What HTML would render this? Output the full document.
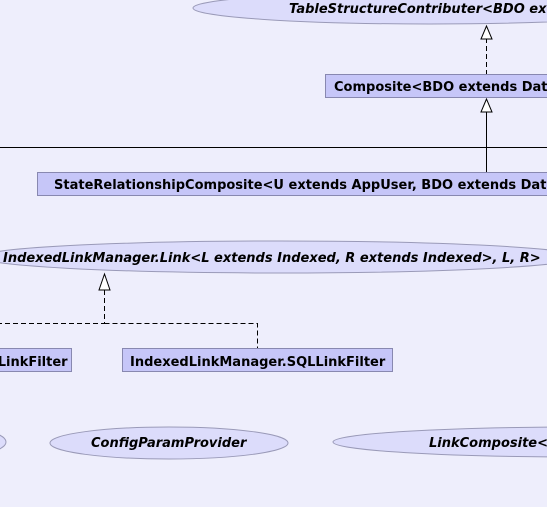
<!DOCTYPE html>
<html><head><style>
html,body{margin:0;padding:0;background:#eeeefc;}
svg{display:block;}
text{font-family:"DejaVu Sans",sans-serif;font-size:13px;font-weight:bold;fill:#000;}
.i{font-style:italic;}
</style></head><body>
<svg width="547" height="507" viewBox="0 0 547 507" xmlns="http://www.w3.org/2000/svg">
<rect width="547" height="507" fill="#eeeefc"/>
<g fill="#dcdcfb" stroke="#9a9ab8" stroke-width="1">
<ellipse cx="430" cy="8" rx="237" ry="16"/>
<ellipse cx="280" cy="257" rx="300" ry="16"/>
<ellipse cx="-60" cy="442" rx="66" ry="16"/>
<ellipse cx="169" cy="443" rx="119" ry="16"/>
<ellipse cx="580" cy="442" rx="247" ry="15"/>
</g>
<g fill="#c6c6f8" stroke="#8888b0" stroke-width="1">
<rect x="325.5" y="74.5" width="240" height="23"/>
<rect x="37.5" y="172.5" width="540" height="23"/>
<rect x="-10.5" y="348.5" width="82" height="23"/>
<rect x="122.5" y="348.5" width="270" height="23"/>
</g>
<g stroke="#000" stroke-width="1" fill="none">
<line x1="486.5" y1="38" x2="486.5" y2="74" stroke-dasharray="5,3"/>
<line x1="486.5" y1="112" x2="486.5" y2="172"/>
<line x1="0" y1="147.5" x2="547" y2="147.5"/>
<path d="M104.5 290 V323.5 H0 M104.5 323.5 H257.5 V348" stroke-dasharray="5,3"/>
</g>
<g fill="#fff" stroke="#000" stroke-width="1">
<path d="M486.5 26 L481 39 L492 39 Z"/>
<path d="M486.5 99 L481 112 L492 112 Z"/>
<path d="M104.5 274 L99 290 L110 290 Z"/>
</g>
<text class="i" x="289" y="13">TableStructureContributer&lt;BDO extends</text>
<text x="334" y="91">Composite&lt;BDO extends DataObject&gt;</text>
<text x="54" y="189">StateRelationshipComposite&lt;U extends AppUser, BDO extends DataObject&gt;</text>
<text class="i" x="3" y="262">IndexedLinkManager.Link&lt;L extends Indexed, R extends Indexed&gt;, L, R&gt;</text>
<text x="-31" y="366">SQLLinkFilter</text>
<text x="130" y="366">IndexedLinkManager.SQLLinkFilter</text>
<text class="i" x="91" y="447">ConfigParamProvider</text>
<text class="i" x="429" y="447">LinkComposite&lt;L</text>
</svg>
</body></html>
